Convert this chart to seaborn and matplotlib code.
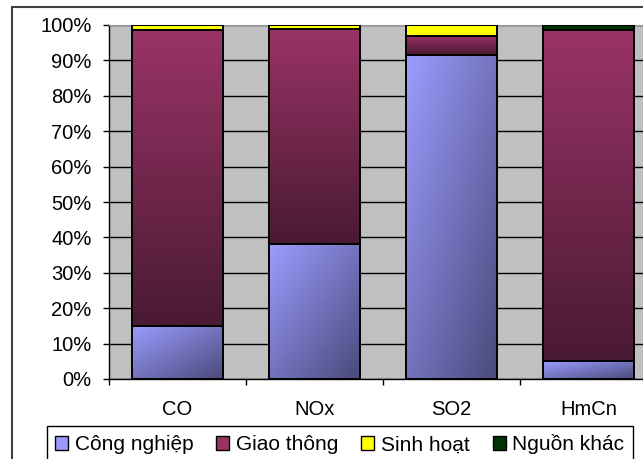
import numpy as np
import pandas as pd
import matplotlib
matplotlib.use("Agg")
import matplotlib.pyplot as plt
import seaborn as sns
from matplotlib.colors import LinearSegmentedColormap
from matplotlib.patches import Patch, Rectangle
from matplotlib.ticker import PercentFormatter

# Share of emissions (%) by source for each pollutant
pollutants = ["CO", "NOx", "SO2", "HmCn"]
sources = ["Công nghiệp", "Giao thông", "Sinh hoạt", "Nguồn khác"]
cong_nghiep = [15.0, 38.0, 91.5, 5.0]
giao_thong = [83.6, 61.0, 5.5, 93.6]
sinh_hoat = [1.4, 1.0, 3.0, 0.0]
nguon_khac = [0.0, 0.0, 0.0, 1.4]

series = [cong_nghiep, giao_thong, sinh_hoat, nguon_khac]
legend_colors = ["#9999FF", "#993366", "#FFFF00", "#003300"]

plt.rcParams["font.family"] = ["Liberation Sans", "DejaVu Sans"]
plt.rcParams["font.size"] = 14.5

fig = plt.figure(figsize=(6.43, 4.59), dpi=100)
ax = fig.add_axes([109 / 643, 80 / 459, 548 / 643, 354 / 459])
ax.set_facecolor("#C0C0C0")

# stacked bars, one seaborn call per source
bottoms = np.zeros(len(pollutants))
groups = []
for name, vals in zip(sources, series):
    n_before = len(ax.patches)
    sns.barplot(x=pollutants, y=vals, bottom=bottoms, ax=ax, width=0.665,
                color="white", edgecolor="black", linewidth=1.4, zorder=3)
    groups.append(ax.patches[n_before:])
    bottoms = bottoms + np.array(vals)

# gradient fills clipped to the bar segments
blue_cmap = LinearSegmentedColormap.from_list("cn", ["#9C9CFF", "#4A4A7C"])
red_cmap = LinearSegmentedColormap.from_list("gt", ["#993366", "#4A1A33"])
u, v = np.meshgrid(np.linspace(0, 1, 60), np.linspace(0, 1, 60))
diag = (u + v) / 2  # upper-left light -> lower-right dark (origin upper)
vert = v

for i, patches in enumerate(groups):
    for p in patches:
        x0, y0, w, h = p.get_x(), p.get_y(), p.get_width(), p.get_height()
        if i == 0:
            img = ax.imshow(diag, cmap=blue_cmap, extent=(x0, x0 + w, y0, y0 + h),
                            aspect="auto", origin="upper", zorder=2.5)
            img.set_clip_path(p)
            p.set_facecolor("none")
        elif i == 1:
            img = ax.imshow(vert, cmap=red_cmap, extent=(x0, x0 + w, y0, y0 + h),
                            aspect="auto", origin="upper", zorder=2.5)
            img.set_clip_path(p)
            p.set_facecolor("none")
        else:
            p.set_facecolor(legend_colors[i])

ax.set_xlim(-0.5, 3.5)
ax.set_ylim(0, 100)
ax.set_yticks(np.arange(0, 101, 10))
ax.yaxis.set_major_formatter(PercentFormatter(decimals=0))
ax.yaxis.grid(True, color="black", linewidth=1.0)
ax.xaxis.grid(False)
ax.set_axisbelow(True)

ax.set_xticks(np.arange(-0.5, 3.6, 1.0), minor=True)
ax.tick_params(axis="x", which="major", length=0, pad=15)
ax.tick_params(axis="x", which="minor", length=4.5, width=1, color="black")
ax.tick_params(axis="y", length=4.5, width=1, pad=8, color="black")

for s in ["left", "bottom"]:
    ax.spines[s].set_color("black")
    ax.spines[s].set_linewidth(1.0)
ax.spines["top"].set_color("#9A9A9A")
ax.spines["right"].set_visible(False)

handles = [Patch(facecolor=c, edgecolor="black", linewidth=1.0) for c in legend_colors]
fig.legend(handles, sources, loc="upper left", bbox_to_anchor=(47 / 643, 1 - 426 / 459),
           ncol=4, frameon=True, fancybox=False, edgecolor="black", framealpha=1,
           borderaxespad=0, borderpad=0.4, handlelength=0.62, handleheight=0.62,
           handletextpad=0.32, columnspacing=1.1, fontsize=15)

fig.add_artist(Rectangle((12 / 643, -0.2), 1.2, 1.2 - 7 / 459, transform=fig.transFigure,
                         fill=False, edgecolor="#404040", linewidth=1.5))

fig.savefig("out.png", dpi=100)
